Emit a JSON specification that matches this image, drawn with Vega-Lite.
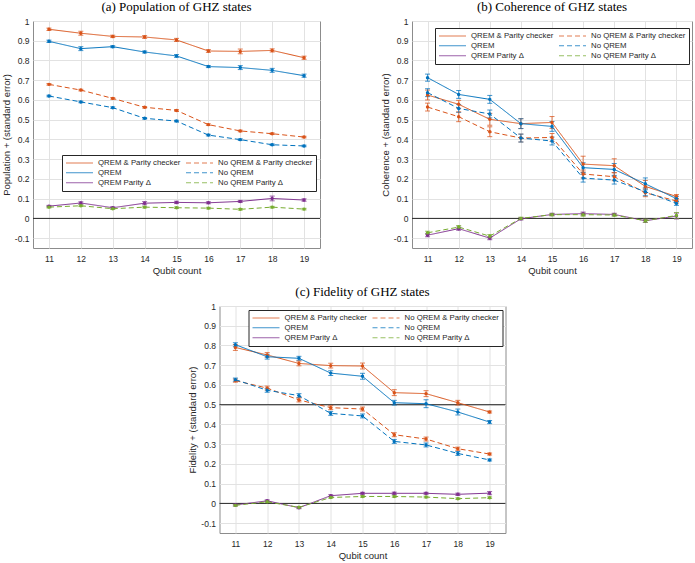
{
  "$schema": "https://vega.github.io/schema/vega-lite/v6.json",
  "padding": {"left": 0, "top": 0, "right": 3, "bottom": 0},
  "datasets": {
    "pop": [
      {"s": "QREM & Parity checker", "q": 11, "v": 0.958, "e": 0.006},
      {"s": "QREM & Parity checker", "q": 12, "v": 0.938, "e": 0.01},
      {"s": "QREM & Parity checker", "q": 13, "v": 0.922, "e": 0.006},
      {"s": "QREM & Parity checker", "q": 14, "v": 0.919, "e": 0.007},
      {"s": "QREM & Parity checker", "q": 15, "v": 0.904, "e": 0.008},
      {"s": "QREM & Parity checker", "q": 16, "v": 0.848, "e": 0.007},
      {"s": "QREM & Parity checker", "q": 17, "v": 0.846, "e": 0.012},
      {"s": "QREM & Parity checker", "q": 18, "v": 0.851, "e": 0.008},
      {"s": "QREM & Parity checker", "q": 19, "v": 0.814, "e": 0.008},
      {"s": "QREM", "q": 11, "v": 0.897, "e": 0.006},
      {"s": "QREM", "q": 12, "v": 0.86, "e": 0.01},
      {"s": "QREM", "q": 13, "v": 0.87, "e": 0.005},
      {"s": "QREM", "q": 14, "v": 0.843, "e": 0.005},
      {"s": "QREM", "q": 15, "v": 0.823, "e": 0.007},
      {"s": "QREM", "q": 16, "v": 0.769, "e": 0.005},
      {"s": "QREM", "q": 17, "v": 0.764, "e": 0.01},
      {"s": "QREM", "q": 18, "v": 0.75, "e": 0.01},
      {"s": "QREM", "q": 19, "v": 0.723, "e": 0.008},
      {"s": "No QREM & Parity checker", "q": 11, "v": 0.679, "e": 0.004},
      {"s": "No QREM & Parity checker", "q": 12, "v": 0.65, "e": 0.004},
      {"s": "No QREM & Parity checker", "q": 13, "v": 0.608, "e": 0.004},
      {"s": "No QREM & Parity checker", "q": 14, "v": 0.563, "e": 0.004},
      {"s": "No QREM & Parity checker", "q": 15, "v": 0.547, "e": 0.004},
      {"s": "No QREM & Parity checker", "q": 16, "v": 0.475, "e": 0.004},
      {"s": "No QREM & Parity checker", "q": 17, "v": 0.443, "e": 0.004},
      {"s": "No QREM & Parity checker", "q": 18, "v": 0.429, "e": 0.004},
      {"s": "No QREM & Parity checker", "q": 19, "v": 0.412, "e": 0.004},
      {"s": "No QREM", "q": 11, "v": 0.62, "e": 0.004},
      {"s": "No QREM", "q": 12, "v": 0.59, "e": 0.004},
      {"s": "No QREM", "q": 13, "v": 0.561, "e": 0.004},
      {"s": "No QREM", "q": 14, "v": 0.507, "e": 0.004},
      {"s": "No QREM", "q": 15, "v": 0.493, "e": 0.004},
      {"s": "No QREM", "q": 16, "v": 0.422, "e": 0.004},
      {"s": "No QREM", "q": 17, "v": 0.399, "e": 0.004},
      {"s": "No QREM", "q": 18, "v": 0.373, "e": 0.004},
      {"s": "No QREM", "q": 19, "v": 0.367, "e": 0.004},
      {"s": "QREM Parity Δ", "q": 11, "v": 0.062, "e": 0.004},
      {"s": "QREM Parity Δ", "q": 12, "v": 0.078, "e": 0.006},
      {"s": "QREM Parity Δ", "q": 13, "v": 0.054, "e": 0.005},
      {"s": "QREM Parity Δ", "q": 14, "v": 0.077, "e": 0.008},
      {"s": "QREM Parity Δ", "q": 15, "v": 0.081, "e": 0.006},
      {"s": "QREM Parity Δ", "q": 16, "v": 0.079, "e": 0.005},
      {"s": "QREM Parity Δ", "q": 17, "v": 0.086, "e": 0.005},
      {"s": "QREM Parity Δ", "q": 18, "v": 0.101, "e": 0.012},
      {"s": "QREM Parity Δ", "q": 19, "v": 0.093, "e": 0.006},
      {"s": "No QREM Parity Δ", "q": 11, "v": 0.057, "e": 0.004},
      {"s": "No QREM Parity Δ", "q": 12, "v": 0.064, "e": 0.004},
      {"s": "No QREM Parity Δ", "q": 13, "v": 0.049, "e": 0.004},
      {"s": "No QREM Parity Δ", "q": 14, "v": 0.057, "e": 0.004},
      {"s": "No QREM Parity Δ", "q": 15, "v": 0.054, "e": 0.004},
      {"s": "No QREM Parity Δ", "q": 16, "v": 0.052, "e": 0.004},
      {"s": "No QREM Parity Δ", "q": 17, "v": 0.046, "e": 0.004},
      {"s": "No QREM Parity Δ", "q": 18, "v": 0.057, "e": 0.004},
      {"s": "No QREM Parity Δ", "q": 19, "v": 0.047, "e": 0.004}
    ],
    "coh": [
      {"s": "QREM & Parity checker", "q": 11, "v": 0.625, "e": 0.025},
      {"s": "QREM & Parity checker", "q": 12, "v": 0.578, "e": 0.02},
      {"s": "QREM & Parity checker", "q": 13, "v": 0.502, "e": 0.03},
      {"s": "QREM & Parity checker", "q": 14, "v": 0.48, "e": 0.025},
      {"s": "QREM & Parity checker", "q": 15, "v": 0.486, "e": 0.03},
      {"s": "QREM & Parity checker", "q": 16, "v": 0.275, "e": 0.04},
      {"s": "QREM & Parity checker", "q": 17, "v": 0.267, "e": 0.035},
      {"s": "QREM & Parity checker", "q": 18, "v": 0.162, "e": 0.03},
      {"s": "QREM & Parity checker", "q": 19, "v": 0.111, "e": 0.01},
      {"s": "QREM", "q": 11, "v": 0.713, "e": 0.018},
      {"s": "QREM", "q": 12, "v": 0.628, "e": 0.02},
      {"s": "QREM", "q": 13, "v": 0.603, "e": 0.02},
      {"s": "QREM", "q": 14, "v": 0.48, "e": 0.025},
      {"s": "QREM", "q": 15, "v": 0.466, "e": 0.025},
      {"s": "QREM", "q": 16, "v": 0.257, "e": 0.025},
      {"s": "QREM", "q": 17, "v": 0.248, "e": 0.03},
      {"s": "QREM", "q": 18, "v": 0.175, "e": 0.03},
      {"s": "QREM", "q": 19, "v": 0.1, "e": 0.012},
      {"s": "No QREM & Parity checker", "q": 11, "v": 0.564, "e": 0.02},
      {"s": "No QREM & Parity checker", "q": 12, "v": 0.515, "e": 0.025},
      {"s": "No QREM & Parity checker", "q": 13, "v": 0.439, "e": 0.025},
      {"s": "No QREM & Parity checker", "q": 14, "v": 0.407, "e": 0.02},
      {"s": "No QREM & Parity checker", "q": 15, "v": 0.41, "e": 0.02},
      {"s": "No QREM & Parity checker", "q": 16, "v": 0.225, "e": 0.02},
      {"s": "No QREM & Parity checker", "q": 17, "v": 0.211, "e": 0.02},
      {"s": "No QREM & Parity checker", "q": 18, "v": 0.13, "e": 0.02},
      {"s": "No QREM & Parity checker", "q": 19, "v": 0.088, "e": 0.01},
      {"s": "No QREM", "q": 11, "v": 0.637, "e": 0.02},
      {"s": "No QREM", "q": 12, "v": 0.557, "e": 0.02},
      {"s": "No QREM", "q": 13, "v": 0.529, "e": 0.02},
      {"s": "No QREM", "q": 14, "v": 0.407, "e": 0.02},
      {"s": "No QREM", "q": 15, "v": 0.392, "e": 0.02},
      {"s": "No QREM", "q": 16, "v": 0.204, "e": 0.02},
      {"s": "No QREM", "q": 17, "v": 0.194, "e": 0.02},
      {"s": "No QREM", "q": 18, "v": 0.135, "e": 0.02},
      {"s": "No QREM", "q": 19, "v": 0.076, "e": 0.01},
      {"s": "QREM Parity Δ", "q": 11, "v": -0.085, "e": 0.008},
      {"s": "QREM Parity Δ", "q": 12, "v": -0.052, "e": 0.008},
      {"s": "QREM Parity Δ", "q": 13, "v": -0.1, "e": 0.008},
      {"s": "QREM Parity Δ", "q": 14, "v": -0.002, "e": 0.006},
      {"s": "QREM Parity Δ", "q": 15, "v": 0.02, "e": 0.006},
      {"s": "QREM Parity Δ", "q": 16, "v": 0.024, "e": 0.008},
      {"s": "QREM Parity Δ", "q": 17, "v": 0.02, "e": 0.006},
      {"s": "QREM Parity Δ", "q": 18, "v": -0.012, "e": 0.008},
      {"s": "QREM Parity Δ", "q": 19, "v": 0.012, "e": 0.015},
      {"s": "No QREM Parity Δ", "q": 11, "v": -0.073, "e": 0.008},
      {"s": "No QREM Parity Δ", "q": 12, "v": -0.044, "e": 0.008},
      {"s": "No QREM Parity Δ", "q": 13, "v": -0.09, "e": 0.008},
      {"s": "No QREM Parity Δ", "q": 14, "v": 0.0, "e": 0.006},
      {"s": "No QREM Parity Δ", "q": 15, "v": 0.019, "e": 0.006},
      {"s": "No QREM Parity Δ", "q": 16, "v": 0.019, "e": 0.008},
      {"s": "No QREM Parity Δ", "q": 17, "v": 0.017, "e": 0.006},
      {"s": "No QREM Parity Δ", "q": 18, "v": -0.012, "e": 0.008},
      {"s": "No QREM Parity Δ", "q": 19, "v": 0.015, "e": 0.015}
    ],
    "fid": [
      {"s": "QREM & Parity checker", "q": 11, "v": 0.79, "e": 0.015},
      {"s": "QREM & Parity checker", "q": 12, "v": 0.752, "e": 0.012},
      {"s": "QREM & Parity checker", "q": 13, "v": 0.709, "e": 0.012},
      {"s": "QREM & Parity checker", "q": 14, "v": 0.698, "e": 0.012},
      {"s": "QREM & Parity checker", "q": 15, "v": 0.696, "e": 0.015},
      {"s": "QREM & Parity checker", "q": 16, "v": 0.561, "e": 0.015},
      {"s": "QREM & Parity checker", "q": 17, "v": 0.556, "e": 0.015},
      {"s": "QREM & Parity checker", "q": 18, "v": 0.51, "e": 0.012},
      {"s": "QREM & Parity checker", "q": 19, "v": 0.463, "e": 0.005},
      {"s": "QREM", "q": 11, "v": 0.804, "e": 0.01},
      {"s": "QREM", "q": 12, "v": 0.743, "e": 0.012},
      {"s": "QREM", "q": 13, "v": 0.735, "e": 0.01},
      {"s": "QREM", "q": 14, "v": 0.66, "e": 0.012},
      {"s": "QREM", "q": 15, "v": 0.644, "e": 0.015},
      {"s": "QREM", "q": 16, "v": 0.51, "e": 0.012},
      {"s": "QREM", "q": 17, "v": 0.505, "e": 0.02},
      {"s": "QREM", "q": 18, "v": 0.463, "e": 0.015},
      {"s": "QREM", "q": 19, "v": 0.412, "e": 0.008},
      {"s": "No QREM & Parity checker", "q": 11, "v": 0.622, "e": 0.008},
      {"s": "No QREM & Parity checker", "q": 12, "v": 0.584, "e": 0.01},
      {"s": "No QREM & Parity checker", "q": 13, "v": 0.524, "e": 0.01},
      {"s": "No QREM & Parity checker", "q": 14, "v": 0.485, "e": 0.01},
      {"s": "No QREM & Parity checker", "q": 15, "v": 0.478, "e": 0.01},
      {"s": "No QREM & Parity checker", "q": 16, "v": 0.348, "e": 0.01},
      {"s": "No QREM & Parity checker", "q": 17, "v": 0.326, "e": 0.01},
      {"s": "No QREM & Parity checker", "q": 18, "v": 0.277, "e": 0.008},
      {"s": "No QREM & Parity checker", "q": 19, "v": 0.25, "e": 0.005},
      {"s": "No QREM", "q": 11, "v": 0.627, "e": 0.008},
      {"s": "No QREM", "q": 12, "v": 0.573, "e": 0.01},
      {"s": "No QREM", "q": 13, "v": 0.546, "e": 0.01},
      {"s": "No QREM", "q": 14, "v": 0.456, "e": 0.01},
      {"s": "No QREM", "q": 15, "v": 0.443, "e": 0.01},
      {"s": "No QREM", "q": 16, "v": 0.314, "e": 0.01},
      {"s": "No QREM", "q": 17, "v": 0.296, "e": 0.01},
      {"s": "No QREM", "q": 18, "v": 0.253, "e": 0.01},
      {"s": "No QREM", "q": 19, "v": 0.22, "e": 0.005},
      {"s": "QREM Parity Δ", "q": 11, "v": -0.008, "e": 0.005},
      {"s": "QREM Parity Δ", "q": 12, "v": 0.013, "e": 0.005},
      {"s": "QREM Parity Δ", "q": 13, "v": -0.022, "e": 0.005},
      {"s": "QREM Parity Δ", "q": 14, "v": 0.039, "e": 0.005},
      {"s": "QREM Parity Δ", "q": 15, "v": 0.051, "e": 0.005},
      {"s": "QREM Parity Δ", "q": 16, "v": 0.051, "e": 0.006},
      {"s": "QREM Parity Δ", "q": 17, "v": 0.051, "e": 0.005},
      {"s": "QREM Parity Δ", "q": 18, "v": 0.046, "e": 0.006},
      {"s": "QREM Parity Δ", "q": 19, "v": 0.052, "e": 0.008},
      {"s": "No QREM Parity Δ", "q": 11, "v": -0.01, "e": 0.004},
      {"s": "No QREM Parity Δ", "q": 12, "v": 0.008, "e": 0.004},
      {"s": "No QREM Parity Δ", "q": 13, "v": -0.02, "e": 0.004},
      {"s": "No QREM Parity Δ", "q": 14, "v": 0.03, "e": 0.004},
      {"s": "No QREM Parity Δ", "q": 15, "v": 0.035, "e": 0.004},
      {"s": "No QREM Parity Δ", "q": 16, "v": 0.035, "e": 0.004},
      {"s": "No QREM Parity Δ", "q": 17, "v": 0.032, "e": 0.004},
      {"s": "No QREM Parity Δ", "q": 18, "v": 0.024, "e": 0.004},
      {"s": "No QREM Parity Δ", "q": 19, "v": 0.029, "e": 0.004}
    ],
    "zero": [{"y": 0}],
    "refs": [{"y": 0}, {"y": 0.5}]
  },
  "resolve": {"scale": {"color": "independent", "strokeDash": "independent"}, "legend": {"color": "independent", "strokeDash": "independent"}},
  "spacing": 9,
  "center": true,
  "vconcat": [
    {
      "hconcat": [
        {
          "title": {"text": "(a) Population of GHZ states", "fontWeight": "normal"},
          "width": 287,
          "height": 227,
          "layer": [
            {
              "data": {"name": "zero"},
              "mark": {"type": "rule", "color": "#262626", "strokeWidth": 1},
              "encoding": {"y": {"field": "y", "type": "quantitative", "title": "Population + (standard error)", "scale": {"domain": [-0.15, 1], "nice": false}, "axis": {"values": [-0.1, 0, 0.1, 0.2, 0.3, 0.4, 0.5, 0.6, 0.7, 0.8, 0.9, 1], "tickCount": 20, "labelExpr": "datum.value < 0 ? '-' + format(-datum.value, '.1~f') : format(datum.value, '.1~f')"}}}
            },
            {
              "data": {"name": "pop"},
              "mark": {"type": "errorbar", "ticks": {"size": 5}, "opacity": 0.75},
              "encoding": {
                "x": {"field": "q", "type": "quantitative", "title": "Qubit count", "scale": {"domain": [10.5, 19.5], "nice": false, "zero": false}, "axis": {"values": [11, 12, 13, 14, 15, 16, 17, 18, 19], "tickCount": 20, "format": "d"}},
                "y": {"field": "v", "type": "quantitative", "title": "Population + (standard error)"},
                "yError": {"field": "e"},
                "color": {"field": "s", "type": "nominal", "scale": {"domain": ["QREM & Parity checker", "No QREM & Parity checker", "QREM", "No QREM", "QREM Parity Δ", "No QREM Parity Δ"], "range": ["#D95319", "#D95319", "#0072BD", "#0072BD", "#7E2F8E", "#77AC30"]}}
              }
            },
            {
              "data": {"name": "pop"},
              "mark": {"type": "line", "strokeWidth": 1},
              "encoding": {
                "x": {"field": "q", "type": "quantitative", "title": "Qubit count"},
                "y": {"field": "v", "type": "quantitative", "title": "Population + (standard error)"},
                "color": {"field": "s", "type": "nominal", "legend": {"orient": "none", "legendX": 29, "legendY": 134, "title": null, "symbolType": "stroke", "direction": "horizontal"}},
                "strokeDash": {"field": "s", "type": "nominal", "scale": {"domain": ["QREM & Parity checker", "No QREM & Parity checker", "QREM", "No QREM", "QREM Parity Δ", "No QREM Parity Δ"], "range": [[1, 0], [5, 3], [1, 0], [5, 3], [1, 0], [5, 3]]}, "legend": {"orient": "none", "legendX": 29, "legendY": 134, "title": null, "symbolType": "stroke", "direction": "horizontal"}}
              }
            },
            {
              "data": {"name": "pop"},
              "mark": {"type": "point", "filled": true, "size": 12, "opacity": 1},
              "encoding": {
                "x": {"field": "q", "type": "quantitative", "title": "Qubit count"},
                "y": {"field": "v", "type": "quantitative", "title": "Population + (standard error)"},
                "color": {"field": "s", "type": "nominal"}
              }
            }
          ]
        },
        {
          "title": {"text": "(b) Coherence of GHZ states", "fontWeight": "normal"},
          "width": 280,
          "height": 227,
          "layer": [
            {
              "data": {"name": "zero"},
              "mark": {"type": "rule", "color": "#262626", "strokeWidth": 1},
              "encoding": {"y": {"field": "y", "type": "quantitative", "title": "Coherence + (standard error)", "scale": {"domain": [-0.15, 1], "nice": false}, "axis": {"values": [-0.1, 0, 0.1, 0.2, 0.3, 0.4, 0.5, 0.6, 0.7, 0.8, 0.9, 1], "tickCount": 20, "labelExpr": "datum.value < 0 ? '-' + format(-datum.value, '.1~f') : format(datum.value, '.1~f')"}}}
            },
            {
              "data": {"name": "coh"},
              "mark": {"type": "errorbar", "ticks": {"size": 5}, "opacity": 0.75},
              "encoding": {
                "x": {"field": "q", "type": "quantitative", "title": "Qubit count", "scale": {"domain": [10.5, 19.5], "nice": false, "zero": false}, "axis": {"values": [11, 12, 13, 14, 15, 16, 17, 18, 19], "tickCount": 20, "format": "d"}},
                "y": {"field": "v", "type": "quantitative", "title": "Coherence + (standard error)"},
                "yError": {"field": "e"},
                "color": {"field": "s", "type": "nominal", "scale": {"domain": ["QREM & Parity checker", "No QREM & Parity checker", "QREM", "No QREM", "QREM Parity Δ", "No QREM Parity Δ"], "range": ["#D95319", "#D95319", "#0072BD", "#0072BD", "#7E2F8E", "#77AC30"]}}
              }
            },
            {
              "data": {"name": "coh"},
              "mark": {"type": "line", "strokeWidth": 1},
              "encoding": {
                "x": {"field": "q", "type": "quantitative", "title": "Qubit count"},
                "y": {"field": "v", "type": "quantitative", "title": "Coherence + (standard error)"},
                "color": {"field": "s", "type": "nominal", "legend": {"orient": "none", "legendX": 23, "legendY": 7, "title": null, "symbolType": "stroke", "direction": "horizontal"}},
                "strokeDash": {"field": "s", "type": "nominal", "scale": {"domain": ["QREM & Parity checker", "No QREM & Parity checker", "QREM", "No QREM", "QREM Parity Δ", "No QREM Parity Δ"], "range": [[1, 0], [5, 3], [1, 0], [5, 3], [1, 0], [5, 3]]}, "legend": {"orient": "none", "legendX": 23, "legendY": 7, "title": null, "symbolType": "stroke", "direction": "horizontal"}}
              }
            },
            {
              "data": {"name": "coh"},
              "mark": {"type": "point", "filled": true, "size": 12, "opacity": 1},
              "encoding": {
                "x": {"field": "q", "type": "quantitative", "title": "Qubit count"},
                "y": {"field": "v", "type": "quantitative", "title": "Coherence + (standard error)"},
                "color": {"field": "s", "type": "nominal"}
              }
            }
          ]
        }
      ],
      "spacing": 58,
      "resolve": {"scale": {"color": "independent", "strokeDash": "independent"}, "legend": {"color": "independent", "strokeDash": "independent"}}
    },
    {
      "title": {"text": "(c) Fidelity of GHZ states", "fontWeight": "normal"},
      "width": 286,
      "height": 227,
      "layer": [
        {
          "data": {"name": "refs"},
          "mark": {"type": "rule", "color": "#262626", "strokeWidth": 1},
          "encoding": {"y": {"field": "y", "type": "quantitative", "title": "Fidelity + (standard error)", "scale": {"domain": [-0.15, 1], "nice": false}, "axis": {"values": [-0.1, 0, 0.1, 0.2, 0.3, 0.4, 0.5, 0.6, 0.7, 0.8, 0.9, 1], "tickCount": 20, "labelExpr": "datum.value < 0 ? '-' + format(-datum.value, '.1~f') : format(datum.value, '.1~f')"}}}
        },
        {
          "data": {"name": "fid"},
          "mark": {"type": "errorbar", "ticks": {"size": 5}, "opacity": 0.75},
          "encoding": {
            "x": {"field": "q", "type": "quantitative", "title": "Qubit count", "scale": {"domain": [10.5, 19.5], "nice": false, "zero": false}, "axis": {"values": [11, 12, 13, 14, 15, 16, 17, 18, 19], "tickCount": 20, "format": "d"}},
            "y": {"field": "v", "type": "quantitative", "title": "Fidelity + (standard error)"},
            "yError": {"field": "e"},
            "color": {"field": "s", "type": "nominal", "scale": {"domain": ["QREM & Parity checker", "No QREM & Parity checker", "QREM", "No QREM", "QREM Parity Δ", "No QREM Parity Δ"], "range": ["#D95319", "#D95319", "#0072BD", "#0072BD", "#7E2F8E", "#77AC30"]}}
          }
        },
        {
          "data": {"name": "fid"},
          "mark": {"type": "line", "strokeWidth": 1},
          "encoding": {
            "x": {"field": "q", "type": "quantitative", "title": "Qubit count"},
            "y": {"field": "v", "type": "quantitative", "title": "Fidelity + (standard error)"},
            "color": {"field": "s", "type": "nominal", "legend": {"orient": "none", "legendX": 29, "legendY": 4, "title": null, "symbolType": "stroke", "direction": "horizontal"}},
            "strokeDash": {"field": "s", "type": "nominal", "scale": {"domain": ["QREM & Parity checker", "No QREM & Parity checker", "QREM", "No QREM", "QREM Parity Δ", "No QREM Parity Δ"], "range": [[1, 0], [5, 3], [1, 0], [5, 3], [1, 0], [5, 3]]}, "legend": {"orient": "none", "legendX": 29, "legendY": 4, "title": null, "symbolType": "stroke", "direction": "horizontal"}}
          }
        },
        {
          "data": {"name": "fid"},
          "mark": {"type": "point", "filled": true, "size": 12, "opacity": 1},
          "encoding": {
            "x": {"field": "q", "type": "quantitative", "title": "Qubit count"},
            "y": {"field": "v", "type": "quantitative", "title": "Fidelity + (standard error)"},
            "color": {"field": "s", "type": "nominal"}
          }
        }
      ]
    }
  ],
  "config": {
    "font": "Liberation Sans",
    "view": {"stroke": "#8c8c8c"},
    "axis": {"labelFontSize": 8.5, "titleFontSize": 9.5, "titleFontWeight": "normal", "gridColor": "#e2e2e2", "domain": false, "ticks": false, "labelColor": "#262626", "titleColor": "#262626", "labelOverlap": false},
    "axisX": {"labelPadding": 6, "titlePadding": 3},
    "axisY": {"labelPadding": 4, "titlePadding": 3},
    "title": {"font": "Liberation Serif", "fontSize": 13, "fontWeight": "normal", "offset": 3, "color": "#000000"},
    "legend": {"labelFontSize": 7.8, "labelColor": "#262626", "symbolSize": 729, "symbolStrokeWidth": 1.2, "clipHeight": 9.5, "columnPadding": 4, "rowPadding": 0, "padding": 3, "strokeColor": "#262626", "fillColor": "white", "columns": 2, "labelLimit": 200, "labelOffset": 4}
  }
}
